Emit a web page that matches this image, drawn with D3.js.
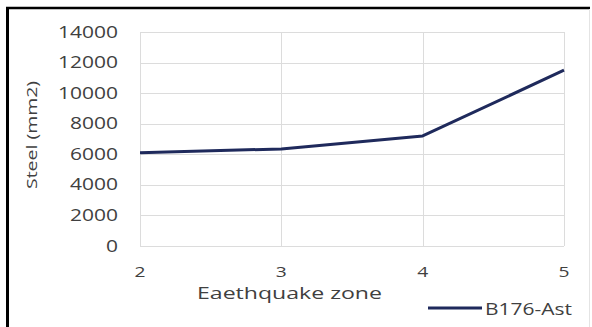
<!DOCTYPE html>
<html>
<head>
<meta charset="utf-8">
<script src="https://cdn.jsdelivr.net/npm/d3@7"></script>
<style>
  html, body { margin: 0; padding: 0; background: #fff; }
  svg { display: block; }
  text { font-family: "Open Sans", "Noto Sans", sans-serif; fill: #404040; }
</style>
</head>
<body>
<svg id="chart" width="592" height="327"></svg>
<script>
// Earthquake zone vs. required steel area for beam B176
const zones = [2, 3, 4, 5];
const steelArea = [6100, 6350, 7200, 11500];
const yTicks = [0, 2000, 4000, 6000, 8000, 10000, 12000, 14000];
const seriesName = "B176-Ast";
const xTitle = "Eaethquake zone";
const yTitle = "Steel (mm2)";

const svg = d3.select("#chart");
const W = 592, H = 327;

const x = d3.scaleLinear().domain([2, 5]).range([140, 564]);
const y = d3.scaleLinear().domain([0, 14000]).range([246, 32]);

// frame
svg.append("rect").attr("x", 0).attr("y", 0).attr("width", W).attr("height", H).attr("fill", "#fff");
svg.append("line").attr("x1", 7.5).attr("x2", 7.5).attr("y1", 7).attr("y2", H)
  .attr("stroke", "#000").attr("stroke-width", 3);
svg.append("line").attr("x1", 6).attr("x2", 590).attr("y1", 8).attr("y2", 8)
  .attr("stroke", "#000").attr("stroke-width", 2.5);
svg.append("line").attr("x1", 589.5).attr("x2", 589.5).attr("y1", 9).attr("y2", H)
  .attr("stroke", "#e4e4e4").attr("stroke-width", 1);

// horizontal gridlines
svg.append("g").selectAll("line").data(yTicks).join("line")
  .attr("x1", x(2)).attr("x2", x(5))
  .attr("y1", d => Math.round(y(d)) + 0.5).attr("y2", d => Math.round(y(d)) + 0.5)
  .attr("stroke", "#dcdcdc").attr("stroke-width", 1);

// vertical gridlines
svg.append("g").selectAll("line").data(zones).join("line")
  .attr("x1", d => Math.round(x(d)) + 0.5).attr("x2", d => Math.round(x(d)) + 0.5)
  .attr("y1", y(14000)).attr("y2", y(0))
  .attr("stroke", "#dcdcdc").attr("stroke-width", 1);

// y tick labels
svg.append("g").selectAll("text").data(yTicks).join("text")
  .attr("x", 118).attr("y", d => y(d) + 5.5)
  .attr("text-anchor", "end")
  .attr("font-size", 15.5)
  .attr("textLength", d => String(d).length * 12)
  .attr("lengthAdjust", "spacingAndGlyphs")
  .text(d => d);

// x tick labels
svg.append("g").selectAll("text").data(zones).join("text")
  .attr("x", d => x(d)).attr("y", 277)
  .attr("text-anchor", "middle")
  .attr("font-size", 14.5)
  .attr("textLength", 11)
  .attr("lengthAdjust", "spacingAndGlyphs")
  .text(d => d);

// axis titles
svg.append("text")
  .attr("x", 197).attr("y", 299)
  .attr("font-size", 16)
  .attr("textLength", 185)
  .attr("lengthAdjust", "spacingAndGlyphs")
  .text(xTitle);

svg.append("text")
  .attr("transform", "translate(37,189) rotate(-90)")
  .attr("font-size", 15)
  .attr("textLength", 108)
  .attr("lengthAdjust", "spacingAndGlyphs")
  .text(yTitle);

// series line
const line = d3.line().x((d, i) => x(zones[i])).y(d => y(d));
svg.append("path")
  .datum(steelArea)
  .attr("d", line)
  .attr("fill", "none")
  .attr("stroke", "#1f2a5c")
  .attr("stroke-width", 3)
  .attr("stroke-linejoin", "round");

// legend
svg.append("line").attr("x1", 428).attr("x2", 482).attr("y1", 308).attr("y2", 308)
  .attr("stroke", "#1f2a5c").attr("stroke-width", 3);
svg.append("text")
  .attr("x", 485).attr("y", 315)
  .attr("font-size", 17)
  .attr("textLength", 87)
  .attr("lengthAdjust", "spacingAndGlyphs")
  .text(seriesName);
</script>
</body>
</html>
